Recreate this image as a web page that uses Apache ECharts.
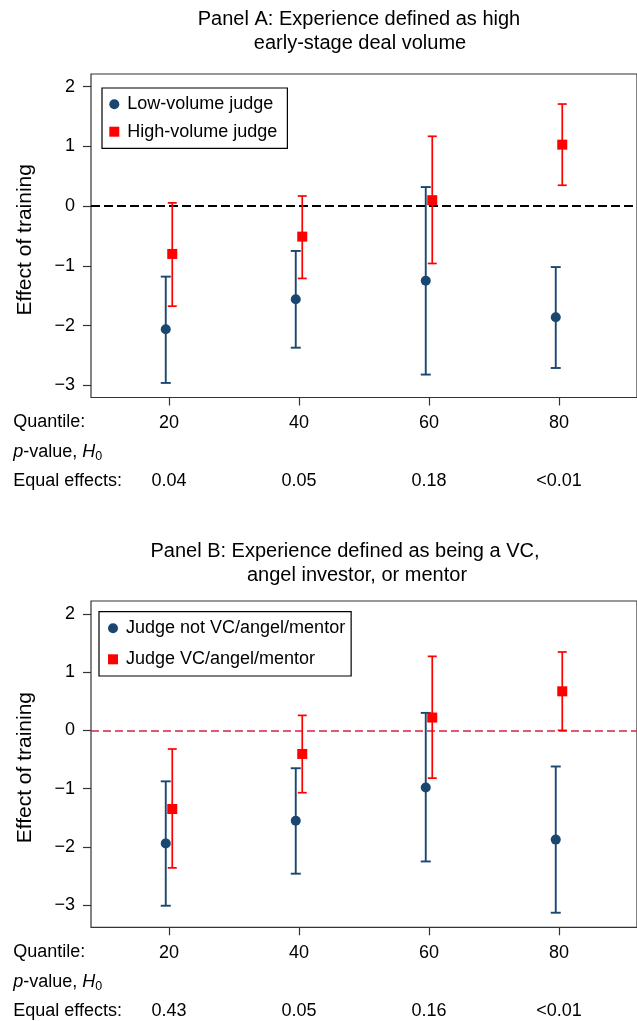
<!DOCTYPE html>
<html><head><meta charset="utf-8">
<script src="https://cdn.jsdelivr.net/npm/echarts@6/dist/echarts.min.js"></script>
<style>html,body{margin:0;padding:0;background:#fff}#c{width:637px;height:1021px}</style>
</head><body><div id="c"></div>
<script>
// ---- tick labels / categories ----
const quantiles = [20, 40, 60, 80];
const yTicks = [-3, -2, -1, 0, 1, 2];

// ---- Panel A: high early-stage deal volume ----
const lowVolEst = [-2.06, -1.56, -1.25, -1.86];
const lowVolLo  = [-2.96, -2.37, -2.82, -2.71];
const lowVolHi  = [-1.18, -0.75, 0.32, -1.02];
const highVolEst = [-0.80, -0.51, 0.10, 1.03];
const highVolLo  = [-1.675, -1.21, -0.96, 0.35];
const highVolHi  = [0.055, 0.17, 1.17, 1.71];
const pValuesA = ['0.04', '0.05', '0.18', '<0.01'];

// ---- Panel B: VC / angel / mentor ----
const notVcEst = [-1.94, -1.55, -0.98, -1.875];
const notVcLo  = [-3.01, -2.46, -2.25, -3.13];
const notVcHi  = [-0.875, -0.65, 0.30, -0.62];
const vcEst = [-1.35, -0.405, 0.22, 0.67];
const vcLo  = [-2.36, -1.07, -0.82, 0.0];
const vcHi  = [-0.32, 0.257, 1.27, 1.345];
const pValuesB = ['0.43', '0.05', '0.16', '<0.01'];

const FONT = '"Liberation Sans", Arial, Helvetica, sans-serif';
const FS = 18;
const NAVY = '#1a476f';
const RED = '#ff0000';
const FRAME = '#333333';
const DODGE = 0.5;

function pts(est, shift) { return quantiles.map((q, i) => [q + shift, est[i]]); }
function bars(lo, hi, shift) { return quantiles.map((q, i) => [q + shift, lo[i], hi[i]]); }

function errBar(color, capW, lw) {
  return function (params, api) {
    const x = api.value(0);
    const lo = api.coord([x, api.value(1)]);
    const hi = api.coord([x, api.value(2)]);
    const st = { stroke: color, lineWidth: lw, fill: null };
    return { type: 'group', children: [
      { type: 'line', shape: { x1: lo[0], y1: lo[1], x2: hi[0], y2: hi[1] }, style: st },
      { type: 'line', shape: { x1: hi[0] - capW / 2, y1: hi[1], x2: hi[0] + capW / 2, y2: hi[1] }, style: st },
      { type: 'line', shape: { x1: lo[0] - capW / 2, y1: lo[1], x2: lo[0] + capW / 2, y2: lo[1] }, style: st }
    ]};
  };
}

const fmtY = v => v < 0 ? '\u2212' + Math.abs(v) : String(v);

function yAxisCfg(gridIndex, min, max, namePad) {
  return {
    type: 'value', gridIndex, min, max, position: 'left',
    axisLine: { show: false, onZero: false },
    splitLine: { show: false },
    axisTick: { show: true, length: 8, customValues: yTicks, lineStyle: { color: FRAME, width: 1.2 } },
    axisLabel: { customValues: yTicks, formatter: fmtY, margin: 16, color: '#000', fontFamily: FONT, fontSize: FS },
    name: 'Effect of training', nameLocation: 'middle', nameGap: 55,
    nameTextStyle: { fontFamily: FONT, fontSize: 21, color: '#000', padding: [0, namePad, 0, 0] }
  };
}
function xAxisCfg(gridIndex) {
  return {
    type: 'value', gridIndex, min: 8, max: 92, position: 'bottom',
    axisLine: { show: false, onZero: false },
    splitLine: { show: false },
    axisTick: { show: true, length: 8, customValues: quantiles, lineStyle: { color: FRAME, width: 1.2 } },
    axisLabel: { customValues: quantiles, formatter: v => String(v), margin: 16.5, color: '#000', fontFamily: FONT, fontSize: FS }
  };
}
function pAxisCfg(gridIndex, pv) {
  return {
    type: 'value', gridIndex, min: 8, max: 92, position: 'bottom', offset: 58.4,
    axisLine: { show: false, onZero: false }, axisTick: { show: false }, splitLine: { show: false },
    axisLabel: { customValues: quantiles, formatter: v => pv[quantiles.indexOf(v)], margin: 16.5, color: '#000', fontFamily: FONT, fontSize: FS }
  };
}

function rowText(x, y, text, rich) {
  const st = { text, x: 0, y: 0, fill: '#000', fontFamily: FONT, fontSize: FS, align: 'left', verticalAlign: 'middle' };
  if (rich) st.rich = rich;
  return { type: 'text', x, y, style: st, silent: true };
}
const pRich = {
  i: { fontStyle: 'italic', fontFamily: FONT, fontSize: FS, fill: '#000' },
  n: { fontFamily: FONT, fontSize: FS, fill: '#000' },
  s: { fontFamily: FONT, fontSize: 12.5, fill: '#000', padding: [9, 0, 0, 0] }
};
function tableRows(y0) {
  return [
    rowText(13.3, y0, 'Quantile:'),
    rowText(13.3, y0 + 29.4, '{i|p}{n|-value, }{i|H}{s|0}', pRich),
    rowText(13.3, y0 + 58.4, 'Equal effects:')
  ];
}

const titleStyle = { fontFamily: FONT, fontSize: 20, fontWeight: 'normal', color: '#000', lineHeight: 24 };
function titleLine(text, cx, top) {
  return { text, left: cx, top, textAlign: 'center', padding: 0, textStyle: titleStyle };
}

function legendCfg(left, top, pad, gap, names) {
  return {
    orient: 'vertical', left, top, padding: pad, itemGap: gap,
    itemWidth: 10, itemHeight: 10,
    borderColor: '#000', borderWidth: 1.2, backgroundColor: '#fff',
    textStyle: { fontFamily: FONT, fontSize: FS, color: '#000', lineHeight: 18, padding: [0, 0, 0, 3] },
    data: [{ name: names[0], icon: 'circle' }, { name: names[1], icon: 'rect' }],
    selectedMode: false
  };
}

function panelSeries(xi, yi, blueName, redName, bEst, bLo, bHi, rEst, rLo, rHi, zeroColor, zeroDash, zeroW) {
  return [
    { type: 'custom', name: blueName + ' CI', xAxisIndex: xi, yAxisIndex: yi, renderItem: errBar(NAVY, 10, 1.9),
      encode: { x: 0, y: [1, 2] }, data: bars(bLo, bHi, -DODGE), clip: false, z: 2, silent: true },
    { type: 'custom', name: redName + ' CI', xAxisIndex: xi, yAxisIndex: yi, renderItem: errBar(RED, 9, 1.7),
      encode: { x: 0, y: [1, 2] }, data: bars(rLo, rHi, DODGE), clip: false, z: 2, silent: true },
    { type: 'scatter', name: blueName, xAxisIndex: xi, yAxisIndex: yi, symbol: 'circle', symbolSize: 10,
      itemStyle: { color: NAVY, opacity: 1 }, data: pts(bEst, -DODGE), z: 4, silent: true,
      markLine: { silent: true, symbol: ['none', 'none'], label: { show: false }, animation: false,
        lineStyle: { color: zeroColor, type: zeroDash, width: zeroW }, data: [{ yAxis: 0 }], z: 1 } },
    { type: 'scatter', name: redName, xAxisIndex: xi, yAxisIndex: yi, symbol: 'rect', symbolSize: 10,
      itemStyle: { color: RED, opacity: 1 }, data: pts(rEst, DODGE), z: 4, silent: true }
  ];
}

const chart = echarts.init(document.getElementById('c'), null, { renderer: 'canvas' });
chart.setOption({
  animation: false,
  backgroundColor: '#fff',
  title: [
    titleLine('Panel A: Experience defined as high', 359, 7),
    titleLine('early-stage deal volume', 360, 31),
    titleLine('Panel B: Experience defined as being a VC,', 345, 539),
    titleLine('angel investor, or mentor', 357, 563)
  ],
  grid: [
    { left: 91, top: 74, width: 551, height: 323.5, show: true, borderColor: FRAME, borderWidth: 1.2, backgroundColor: 'transparent', containLabel: false },
    { left: 91, top: 601, width: 551, height: 326.3, show: true, borderColor: FRAME, borderWidth: 1.2, backgroundColor: 'transparent', containLabel: false }
  ],
  xAxis: [xAxisCfg(0), pAxisCfg(0, pValuesA), xAxisCfg(1), pAxisCfg(1, pValuesB)],
  yAxis: [yAxisCfg(0, -3.204, 2.213, 8), yAxisCfg(1, -3.38, 2.22, 7)],
  legend: [
    legendCfg(102, 88, [7.3, 10, 7.6, 7.3], 9.4, ['Low-volume judge', 'High-volume judge']),
    legendCfg(99, 611.7, [7.6, 6, 7.7, 9], 13, ['Judge not VC/angel/mentor', 'Judge VC/angel/mentor'])
  ],
  graphic: [].concat(tableRows(422.3), tableRows(952.3)),
  series: [].concat(
    panelSeries(0, 0, 'Low-volume judge', 'High-volume judge', lowVolEst, lowVolLo, lowVolHi, highVolEst, highVolLo, highVolHi, '#000000', [9, 4], 1.8),
    panelSeries(2, 1, 'Judge not VC/angel/mentor', 'Judge VC/angel/mentor', notVcEst, notVcLo, notVcHi, vcEst, vcLo, vcHi, '#d81e48', [8, 4], 1.5)
  )
});
</script>
</body></html>
